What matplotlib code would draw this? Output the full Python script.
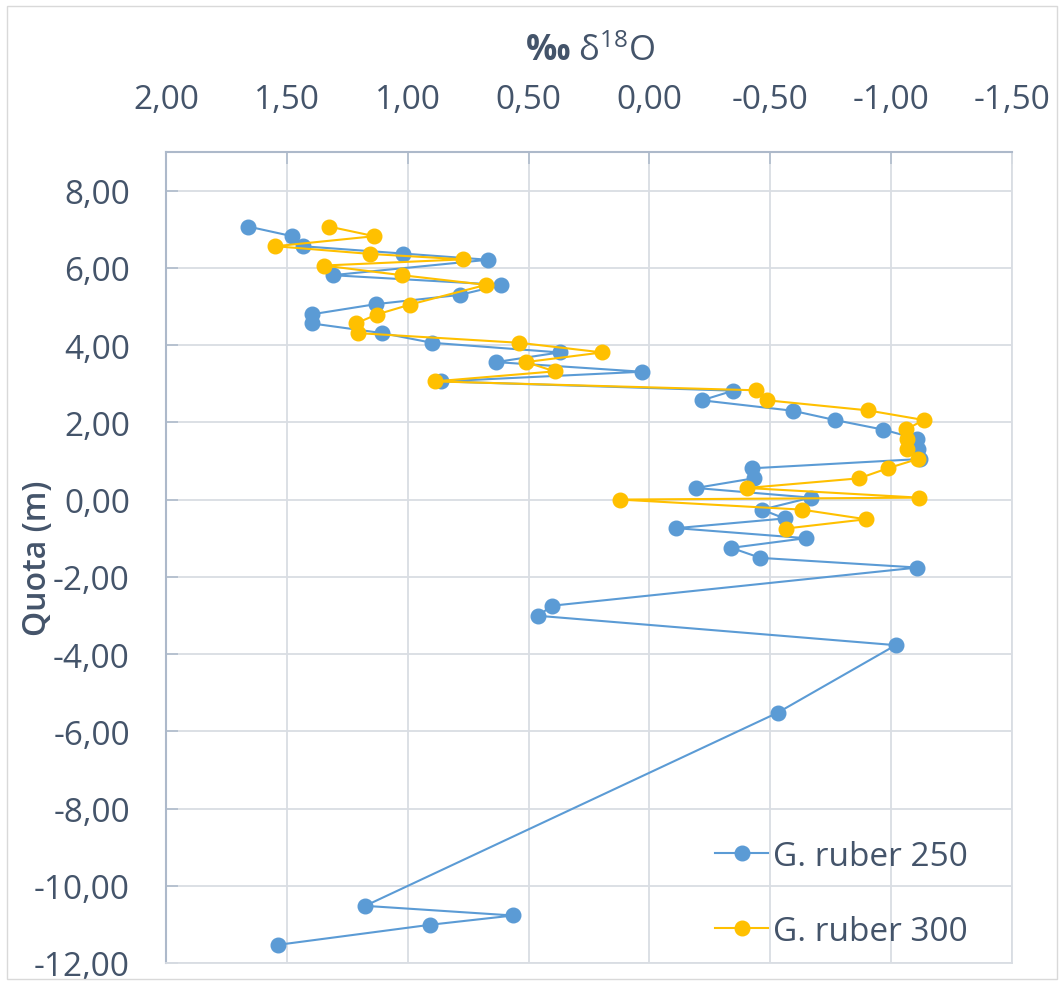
import matplotlib
matplotlib.use("Agg")
import matplotlib.pyplot as plt
from matplotlib.patches import Rectangle

# ---------------- data ----------------
quota_250 = [7.07, 6.82, 6.56, 6.37, 6.21, 5.81, 5.56, 5.30, 5.06, 4.80,
             4.56, 4.31, 4.06, 3.81, 3.56, 3.31, 3.06, 2.82, 2.57, 2.30,
             2.06, 1.81, 1.57, 1.31, 1.05, 0.81, 0.55, 0.30, 0.05, -0.26,
             -0.49, -0.74, -1.00, -1.25, -1.51, -1.76, -2.75, -3.01, -3.77, -5.52,
             -10.52, -10.77, -11.01, -11.53]
d18o_250 = [1.660, 1.478, 1.435, 1.019, 0.668, 1.311, 0.612, 0.784, 1.132, 1.394,
            1.396, 1.105, 0.900, 0.372, 0.635, 0.030, 0.861, -0.347, -0.217, -0.593,
            -0.767, -0.968, -1.109, -1.113, -1.120, -0.425, -0.431, -0.192, -0.667, -0.466,
            -0.559, -0.111, -0.647, -0.339, -0.459, -1.109, 0.405, 0.459, -1.019, -0.530,
            1.176, 0.564, 0.907, 1.537]

quota_300 = [7.07, 6.82, 6.56, 6.36, 6.22, 6.06, 5.81, 5.56, 5.05, 4.79,
             4.56, 4.31, 4.06, 3.81, 3.56, 3.32, 3.06, 2.83, 2.57, 2.31,
             2.06, 1.82, 1.56, 1.31, 1.05, 0.81, 0.55, 0.30, 0.05, 0.00,
             -0.26, -0.51, -0.75]
d18o_300 = [1.326, 1.138, 1.547, 1.154, 0.770, 1.348, 1.024, 0.676, 0.990, 1.129,
            1.215, 1.205, 0.539, 0.195, 0.511, 0.392, 0.889, -0.440, -0.488, -0.903,
            -1.135, -1.063, -1.066, -1.066, -1.110, -0.986, -0.867, -0.404, -1.116, 0.122,
            -0.630, -0.896, -0.564]

series_names = ["G. ruber 250", "G. ruber 300"]
x_ticks = [2.00, 1.50, 1.00, 0.50, 0.00, -0.50, -1.00, -1.50]
y_ticks = [8.00, 6.00, 4.00, 2.00, 0.00, -2.00, -4.00, -6.00, -8.00, -10.00, -12.00]
x_title = r"$\mathbf{‰}$ δ$^{18}$O"
y_title = "Quota (m)"

# ---------------- style ----------------
FONT = "Open Sans"
plt.rcParams["font.family"] = [FONT, "DejaVu Sans"]
plt.rcParams["mathtext.fontset"] = "custom"
plt.rcParams["mathtext.rm"] = FONT
plt.rcParams["mathtext.bf"] = FONT + ":bold"
plt.rcParams["mathtext.it"] = FONT + ":italic"
plt.rcParams["mathtext.default"] = "regular"

TEXT = "#44546A"
SPINE = "#ADB9CA"
GRID = "#D9DDE3"
BLUE = "#5B9BD5"
YELLOW = "#FFC000"
FS = 24

W, H = 1064, 987
fig = plt.figure(figsize=(W / 100, H / 100), dpi=100)
fig.patch.set_facecolor("white")
L, R, T, B = 166, 1012, 153, 964
ax = fig.add_axes([L / W, 1 - B / H, (R - L) / W, (B - T) / H])

ax.plot(d18o_250, quota_250, color=BLUE, lw=1.5, marker="o", ms=10.5,
        mfc=BLUE, mec=BLUE, label=series_names[0], zorder=3)
ax.plot(d18o_300, quota_300, color=YELLOW, lw=1.5, marker="o", ms=10.5,
        mfc=YELLOW, mec=YELLOW, label=series_names[1], zorder=4)

ax.set_xlim(2.0, -1.5)
ax.set_ylim(-12, 9)
ax.set_xticks(x_ticks)
ax.set_xticklabels([f"{v:.2f}".replace(".", ",") for v in x_ticks])
ax.set_yticks(y_ticks)
ax.set_yticklabels([f"{v:.2f}".replace(".", ",") for v in y_ticks])
ax.xaxis.tick_top()

ax.tick_params(axis="x", direction="in", length=8.6, width=1.1, color=SPINE,
               labelsize=FS, labelcolor=TEXT, pad=26)
ax.tick_params(axis="y", direction="in", length=8.6, width=1.1, color=SPINE,
               labelsize=FS, labelcolor=TEXT, pad=26)

ax.grid(True, color=GRID, lw=1.3, zorder=0)
ax.set_axisbelow(True)
for s in ["left", "top"]:
    ax.spines[s].set_color(SPINE)
    ax.spines[s].set_linewidth(1.5)
for s in ["right", "bottom"]:
    ax.spines[s].set_color(GRID)
    ax.spines[s].set_linewidth(1.3)

fig.text(590 / W, 1 - 52 / H, x_title, ha="center", va="center",
         fontsize=FS + 1, color=TEXT)
fig.text(37 / W, 1 - 558 / H, y_title, ha="center", va="center",
         rotation=90, fontsize=FS - 1, color=TEXT, fontweight="semibold")

leg = ax.legend(loc="upper left", bbox_to_anchor=((715 - L) / (R - L), (B - 841) / (B - T)),
                frameon=False, fontsize=FS, borderpad=0, borderaxespad=0,
                handlelength=1.6, handletextpad=0.15, labelspacing=1.26)
for t in leg.get_texts():
    t.set_color(TEXT)

fig.add_artist(Rectangle((7 / W, 7 / H), (W - 14) / W, (H - 14) / H,
                         transform=fig.transFigure, fill=False,
                         edgecolor="#D9D9D9", lw=1.0))

fig.savefig("out.png", dpi=100, facecolor="white")
